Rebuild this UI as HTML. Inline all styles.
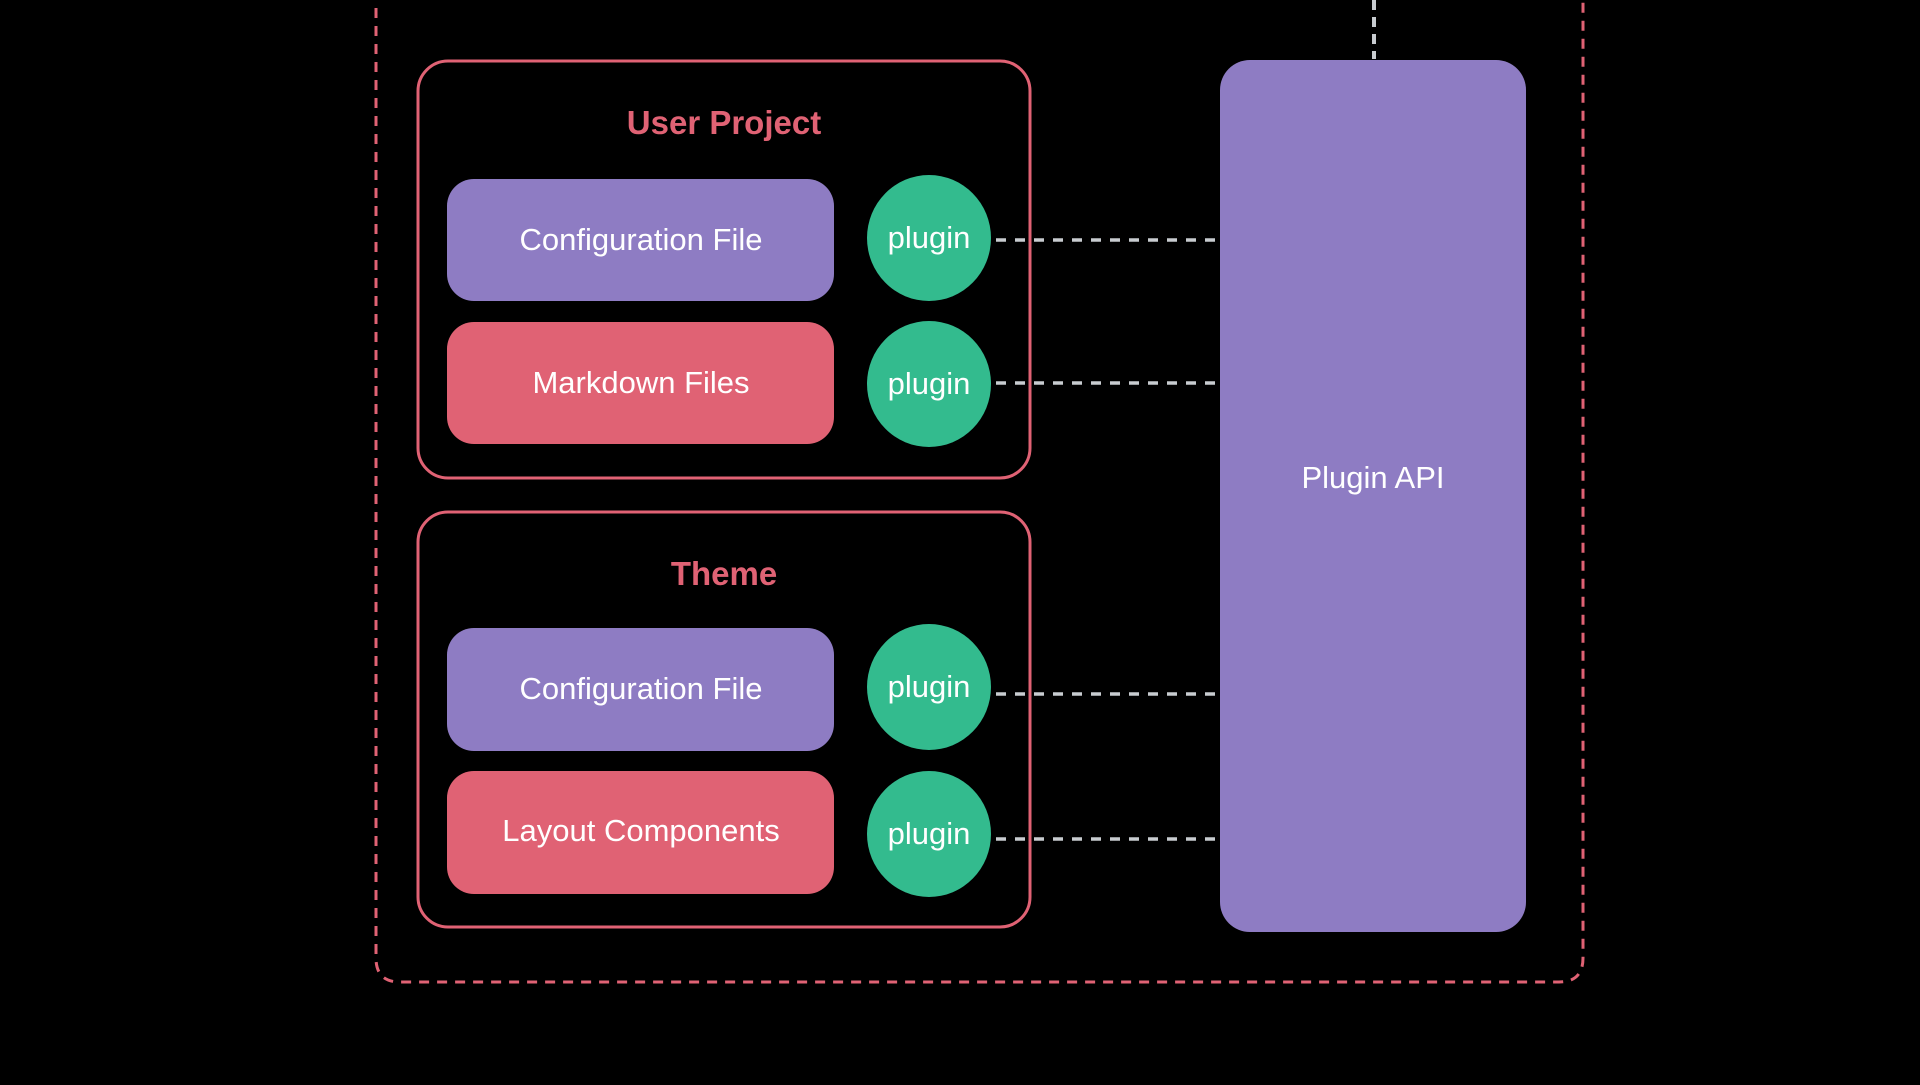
<!DOCTYPE html>
<html><head><style>
body{margin:0;background:#000;width:1920px;height:1080px;overflow:hidden;font-family:"Liberation Sans",sans-serif}
</style></head><body>
<svg width="1920" height="1080" xmlns="http://www.w3.org/2000/svg" font-family="Liberation Sans, sans-serif">
<rect x="0" y="0" width="1920" height="1080" fill="#000"/>
<path d="M376,-10 L376,958 Q376,982 400,982 L1559,982 Q1583,982 1583,958 L1583,-10" fill="none" stroke="#e06274" stroke-width="3" stroke-dasharray="10,8"/>
<line x1="1374" y1="0" x2="1374" y2="59" stroke="#c8ccd0" stroke-width="4" stroke-dasharray="10,7"/>
<g stroke="#c8ccd0" stroke-width="3.5" stroke-dasharray="10,9">
<line x1="996" y1="240" x2="1220" y2="240"/>
<line x1="996" y1="383" x2="1220" y2="383"/>
<line x1="996" y1="694" x2="1220" y2="694"/>
<line x1="996" y1="839" x2="1220" y2="839"/>
</g>
<rect x="418" y="61" width="612" height="417" rx="30" fill="none" stroke="#e06274" stroke-width="3"/>
<rect x="418" y="512" width="612" height="415" rx="30" fill="none" stroke="#e06274" stroke-width="3"/>
<text x="724" y="134" text-anchor="middle" font-size="33" font-weight="bold" fill="#e06274">User Project</text>
<text x="724" y="585" text-anchor="middle" font-size="33" font-weight="bold" fill="#e06274">Theme</text>
<rect x="447" y="179" width="387" height="122" rx="27" fill="#8e7cc3"/>
<rect x="447" y="322" width="387" height="122" rx="27" fill="#e06274"/>
<rect x="447" y="628" width="387" height="123" rx="27" fill="#8e7cc3"/>
<rect x="447" y="771" width="387" height="123" rx="27" fill="#e06274"/>
<g fill="#fff" font-size="31" text-anchor="middle">
<text x="641" y="250">Configuration File</text>
<text x="641" y="393">Markdown Files</text>
<text x="641" y="699">Configuration File</text>
<text x="641" y="841">Layout Components</text>
</g>
<g fill="#33bb8e">
<ellipse cx="929" cy="238" rx="62" ry="63"/>
<ellipse cx="929" cy="384" rx="62" ry="63"/>
<ellipse cx="929" cy="687" rx="62" ry="63"/>
<ellipse cx="929" cy="834" rx="62" ry="63"/>
</g>
<g fill="#fff" font-size="31" text-anchor="middle">
<text x="929" y="248">plugin</text>
<text x="929" y="394">plugin</text>
<text x="929" y="697">plugin</text>
<text x="929" y="844">plugin</text>
</g>
<rect x="1220" y="60" width="306" height="872" rx="30" fill="#8e7cc3"/>
<text x="1373" y="488" text-anchor="middle" font-size="31" fill="#fff">Plugin API</text>
</svg>
</body></html>
